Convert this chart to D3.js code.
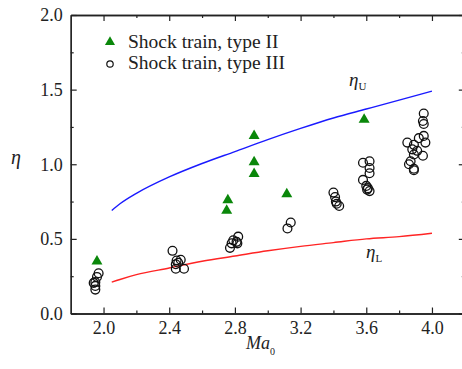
<!DOCTYPE html>
<html>
<head>
<meta charset="utf-8">
<script src="https://cdn.jsdelivr.net/npm/d3@7"></script>
<style>
  html, body { margin: 0; padding: 0; background: #fff; }
  svg { display: block; }
  svg text { font-family: 'Liberation Serif', Tinos, 'Times New Roman', Times, 'DejaVu Serif', serif; fill: #222; }
</style>
</head>
<body>
<svg id="chart" width="462" height="369"></svg>
<script>
// Shock train, type II (filled triangles)
const typeIIMa  = [1.96, 2.75, 2.757, 2.917, 2.917, 2.917, 3.116, 3.587];
const typeIIEta = [0.35, 0.69, 0.76, 1.19, 1.015, 0.935, 0.80, 1.30];

// Shock train, type III (open circles)
const typeIIIMa = [
  1.97, 1.96, 1.95, 1.94, 1.95, 1.95,
  2.42, 2.47, 2.445, 2.44, 2.455, 2.44, 2.49,
  2.77, 2.78, 2.81, 2.82, 2.79, 2.815,
  3.14, 3.12,
  3.40, 3.41, 3.415, 3.42, 3.435,
  3.58, 3.62, 3.62, 3.62, 3.58, 3.60, 3.61, 3.62, 3.605,
  3.95, 3.945, 3.95, 3.95, 3.92, 3.96, 3.85, 3.89, 3.88, 3.91, 3.89, 3.945, 3.87, 3.86, 3.89, 3.89
];
const typeIIIEta = [
  0.27, 0.245, 0.21, 0.205, 0.185, 0.16,
  0.42, 0.36, 0.355, 0.33, 0.34, 0.30, 0.30,
  0.44, 0.47, 0.48, 0.515, 0.49, 0.47,
  0.61, 0.57,
  0.81, 0.78, 0.75, 0.735, 0.72,
  1.01, 1.02, 0.975, 0.94, 0.895, 0.855, 0.84, 0.82, 0.83,
  1.34, 1.29, 1.27, 1.19, 1.175, 1.145, 1.145, 1.13, 1.10, 1.09, 1.065, 1.057, 1.02, 1.00, 0.97, 0.96
];

// Upper bound curve eta_U
const upperMa  = [2.05, 2.1, 2.2, 2.4, 2.6, 2.8, 3.0, 3.2, 3.4, 3.6, 3.8, 4.0];
const upperEta = [0.69, 0.735, 0.805, 0.915, 1.005, 1.085, 1.165, 1.24, 1.31, 1.37, 1.43, 1.49];

// Lower bound curve eta_L
const lowerMa  = [2.05, 2.1, 2.2, 2.4, 2.6, 2.8, 3.0, 3.2, 3.4, 3.6, 3.8, 4.0];
const lowerEta = [0.21, 0.228, 0.26, 0.305, 0.35, 0.385, 0.42, 0.45, 0.475, 0.50, 0.515, 0.538];

// Axis ticks
const xMajor = [2.0, 2.4, 2.8, 3.2, 3.6, 4.0];
const xMinor = [2.2, 2.6, 3.0, 3.4, 3.8];
const yMajor = [0.0, 0.5, 1.0, 1.5, 2.0];
const yMinor = [0.25, 0.75, 1.25, 1.75];

const legendLabels = ["Shock train, type II", "Shock train, type III"];

const serif = "'Liberation Serif', Tinos, 'Times New Roman', Times, 'DejaVu Serif', serif";
const svg = d3.select("#chart").attr("font-family", serif);
const plotLeft = 70.7, plotRight = 464.8, plotTop = 15, plotBottom = 313.5;

const x = d3.scaleLinear().domain([1.8, 4.2]).range([plotLeft, plotRight]);
const y = d3.scaleLinear().domain([0, 2]).range([plotBottom, plotTop]);

const axisColor = "#222";

function styleAxis(g) {
  g.attr("font-family", serif).attr("font-size", 18);
  g.selectAll("path.domain").attr("stroke", axisColor).attr("stroke-width", 1.3);
  g.selectAll(".tick line").attr("stroke", axisColor).attr("stroke-width", 1.2);
  g.selectAll(".tick text").attr("fill", "#222");
}

// Bottom axis with labels (ticks pointing inward)
svg.append("g").attr("transform", `translate(0,${plotBottom})`)
  .call(d3.axisBottom(x).tickValues(xMajor).tickFormat(d3.format(".1f"))
    .tickSize(-6).tickSizeOuter(0).tickPadding(8))
  .call(styleAxis);
svg.append("g").attr("transform", `translate(0,${plotBottom})`)
  .call(d3.axisBottom(x).tickValues(xMinor).tickFormat("").tickSize(-3).tickSizeOuter(0))
  .call(styleAxis);

// Top axis (ticks only)
svg.append("g").attr("transform", `translate(0,${plotTop})`)
  .call(d3.axisTop(x).tickValues(xMajor).tickFormat("").tickSize(-6).tickSizeOuter(0))
  .call(styleAxis);
svg.append("g").attr("transform", `translate(0,${plotTop})`)
  .call(d3.axisTop(x).tickValues(xMinor).tickFormat("").tickSize(-3).tickSizeOuter(0))
  .call(styleAxis);

// Left axis with labels
svg.append("g").attr("transform", `translate(${plotLeft},0)`)
  .call(d3.axisLeft(y).tickValues(yMajor).tickFormat(d3.format(".1f"))
    .tickSize(-6).tickSizeOuter(0).tickPadding(8))
  .call(styleAxis);
svg.append("g").attr("transform", `translate(${plotLeft},0)`)
  .call(d3.axisLeft(y).tickValues(yMinor).tickFormat("").tickSize(-3).tickSizeOuter(0))
  .call(styleAxis);

// Right axis (ticks only)
svg.append("g").attr("transform", `translate(${plotRight},0)`)
  .call(d3.axisRight(y).tickValues(yMajor).tickFormat("").tickSize(-6).tickSizeOuter(0))
  .call(styleAxis);
svg.append("g").attr("transform", `translate(${plotRight},0)`)
  .call(d3.axisRight(y).tickValues(yMinor).tickFormat("").tickSize(-3).tickSizeOuter(0))
  .call(styleAxis);

// Bound curves
const line = d3.line().x(d => x(d[0])).y(d => y(d[1])).curve(d3.curveMonotoneX);
svg.append("path")
  .datum(d3.zip(upperMa, upperEta))
  .attr("d", line).attr("fill", "none").attr("stroke", "#1a1aff").attr("stroke-width", 1.4);
svg.append("path")
  .datum(d3.zip(lowerMa, lowerEta))
  .attr("d", line).attr("fill", "none").attr("stroke", "#ff2424").attr("stroke-width", 1.4);

// Type III points
svg.append("g").selectAll("circle")
  .data(d3.zip(typeIIIMa, typeIIIEta))
  .join("circle")
  .attr("cx", d => x(d[0])).attr("cy", d => y(d[1]))
  .attr("r", 4.4)
  .attr("fill", "none").attr("stroke", "#111").attr("stroke-width", 1.3);

// Type II points
const tri = d3.symbol().type(d3.symbolTriangle).size(52);
svg.append("g").selectAll("path")
  .data(d3.zip(typeIIMa, typeIIEta))
  .join("path")
  .attr("d", tri)
  .attr("transform", d => `translate(${x(d[0])},${y(d[1])})`)
  .attr("fill", "#0a870a");

// Legend
const legend = svg.append("g");
legend.append("path")
  .attr("d", d3.symbol().type(d3.symbolTriangle).size(44))
  .attr("transform", "translate(110,42)")
  .attr("fill", "#0a870a");
legend.append("circle")
  .attr("cx", 110).attr("cy", 64).attr("r", 3.2)
  .attr("fill", "none").attr("stroke", "#111").attr("stroke-width", 1.2);
legend.selectAll("text")
  .data(legendLabels)
  .join("text")
  .attr("x", 128).attr("y", (d, i) => 48 + i * 21)
  .attr("font-size", 19.5)
  .text(d => d);

// Curve labels
function etaLabel(px, py, sub) {
  const t = svg.append("text").attr("x", px).attr("y", py);
  t.append("tspan").attr("font-style", "italic").attr("font-size", 19).text("η");
  t.append("tspan").attr("dy", 4).attr("font-size", 11).text(sub);
}
etaLabel(349, 86, "U");
etaLabel(366, 258, "L");

// Axis titles
svg.append("text").attr("x", 11).attr("y", 164)
  .attr("font-style", "italic").attr("font-size", 20).text("η");
const xt = svg.append("text").attr("x", 246).attr("y", 349);
xt.append("tspan").attr("font-style", "italic").attr("font-size", 18).text("Ma");
xt.append("tspan").attr("dy", 6).attr("font-size", 10).text("0");
</script>
</body>
</html>
